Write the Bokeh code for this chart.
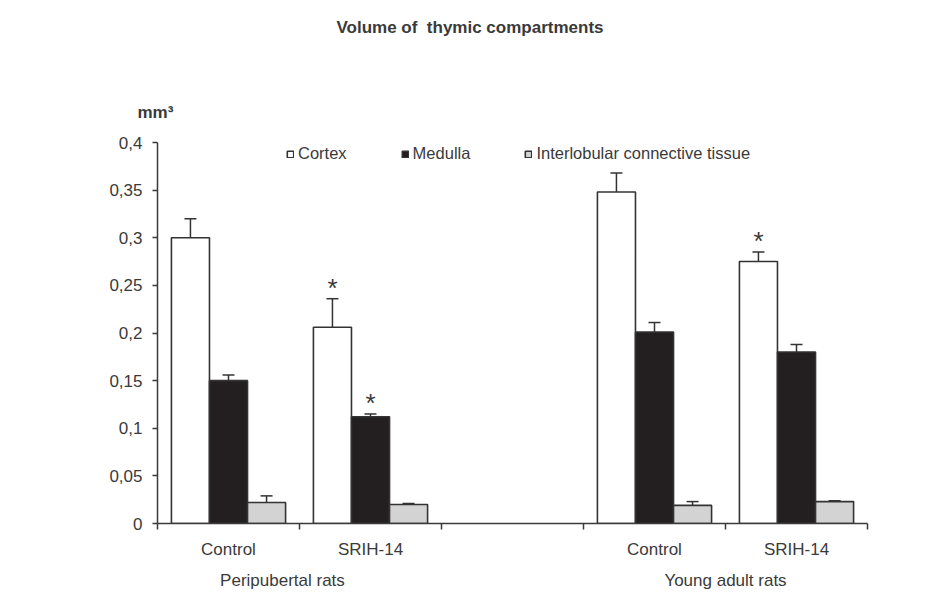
from bokeh.plotting import figure
from bokeh.models import (ColumnDataSource, Whisker, TeeHead, FixedTicker, LinearAxis,
                          CustomJSTickFormatter, Range1d, Title, Legend, LegendItem)
from bokeh.core.properties import value
from bokeh.embed import file_html
from bokeh.resources import INLINE

# ---- data ----
groups = ["Peripubertal rats", "Young adult rats"]
treatments = ["Control", "SRIH-14", "Control", "SRIH-14"]
group_of = [0, 0, 1, 1]
series = ["Cortex", "Medulla", "Interlobular connective tissue"]
cortex = [0.300, 0.206, 0.348, 0.275]
cortex_err = [0.020, 0.030, 0.020, 0.010]
medulla = [0.150, 0.112, 0.201, 0.180]
medulla_err = [0.006, 0.003, 0.010, 0.008]
inter = [0.022, 0.020, 0.019, 0.023]
inter_err = [0.007, 0.001, 0.004, 0.001]
cortex_sig = [False, True, False, True]
medulla_sig = [False, True, False, False]
y_ticks = [0, 0.05, 0.1, 0.15, 0.2, 0.25, 0.3, 0.35, 0.4]
title_text = "Volume of \u00a0thymic compartments"
unit_text = "mm\u00b3"

FONT = "Liberation Sans"
TXT = "#3a3a3a"
EDGE = "#333333"

# slot positions: one empty slot between groups
slots = [g * 3 + (i % 2) for i, g in enumerate(group_of)]
n_slots = max(slots) + 1
centers = [s + 0.5 for s in slots]
bw = 0.268

p = figure(width=937, height=592, output_backend="svg", toolbar_location=None,
           x_range=Range1d(0, n_slots), y_range=Range1d(0, 0.4),
           min_border_left=157, min_border_right=70, min_border_top=142, min_border_bottom=68,
           x_axis_location=None, y_axis_location=None)
p.outline_line_color = None
p.xgrid.visible = False
p.ygrid.visible = False
p.background_fill_color = "white"

fills = ["white", "#231f20", "#d3d3d3"]
vals = [cortex, medulla, inter]
errs = [cortex_err, medulla_err, inter_err]
offsets = [-bw, 0.0, bw]
items = []
for k in range(3):
    xs = [c + offsets[k] for c in centers]
    src = ColumnDataSource(dict(x=xs, top=vals[k],
                                up=[v + e for v, e in zip(vals[k], errs[k])],
                                lo=[v - e for v, e in zip(vals[k], errs[k])]))
    r = p.vbar(x="x", top="top", bottom=0, width=bw, source=src,
               fill_color=fills[k], line_color=EDGE, line_width=1.6)
    items.append(LegendItem(label=series[k], renderers=[r]))
    w = Whisker(base="x", upper="up", lower="lo", source=src, dimension="height",
                line_color=EDGE, line_width=1.5,
                upper_head=TeeHead(size=12, line_color=EDGE, line_width=1.5),
                lower_head=TeeHead(size=12, line_color=EDGE, line_width=1.5))
    p.add_layout(w)

# significance stars
sx, sy = [], []
for i in range(4):
    if cortex_sig[i]:
        sx.append(centers[i] + offsets[0]); sy.append(cortex[i] + cortex_err[i])
    if medulla_sig[i]:
        sx.append(centers[i] + offsets[1]); sy.append(medulla[i] + medulla_err[i])
p.text(x=sx, y=sy, text=["*"] * len(sx), text_align="center", text_baseline="middle",
       y_offset=-11, text_font=value(FONT), text_font_size="26px", text_color=TXT)

legend = Legend(items=items, orientation="horizontal", location=(129, 360),
                glyph_width=8, glyph_height=8, label_standoff=4, spacing=54,
                padding=0, margin=0, border_line_color=None, background_fill_alpha=0,
                label_text_font=FONT, label_text_font_size="16.5px", label_text_color=TXT)
p.add_layout(legend)

# y axis
yax = LinearAxis(ticker=FixedTicker(ticks=y_ticks, minor_ticks=[]),
                 formatter=CustomJSTickFormatter(code="""
                     return tick.toFixed(2).replace(/0+$/, '').replace(/\\.$/, '').replace('.', ',');
                 """))
yax.axis_line_color = "#3a3a3a"; yax.axis_line_width = 1.5
yax.major_tick_line_color = "#3a3a3a"; yax.major_tick_line_width = 1.5
yax.major_tick_in = 0; yax.major_tick_out = 5
yax.major_label_standoff = 10
yax.major_label_text_font = FONT; yax.major_label_text_font_size = "17px"
yax.major_label_text_color = TXT
p.add_layout(yax, "left")

# x axis: category labels at centers, tick marks at slot boundaries
xax = LinearAxis(ticker=FixedTicker(ticks=centers, minor_ticks=list(range(n_slots + 1))),
                 major_label_overrides={c: t for c, t in zip(centers, treatments)})
xax.axis_line_color = "#3a3a3a"; xax.axis_line_width = 1.5
xax.major_tick_line_color = None
xax.major_tick_in = 0; xax.major_tick_out = 6
xax.minor_tick_line_color = "#3a3a3a"; xax.minor_tick_line_width = 1.5
xax.minor_tick_in = 0; xax.minor_tick_out = 6
xax.major_label_standoff = 10
xax.major_label_text_font = FONT; xax.major_label_text_font_size = "17px"
xax.major_label_text_color = TXT
p.add_layout(xax, "below")

# group labels
gpos = [0.88, 4.0]
gax = LinearAxis(ticker=FixedTicker(ticks=gpos, minor_ticks=[]),
                 major_label_overrides={g: t for g, t in zip(gpos, groups)})
gax.axis_line_color = None
gax.major_tick_line_color = None
gax.major_label_standoff = 3
gax.major_label_text_font = FONT; gax.major_label_text_font_size = "17px"
gax.major_label_text_color = TXT
p.add_layout(gax, "below")

# unit label just above the frame, a spacer, then the chart title at the top
unit = Title(text=unit_text, align="left", offset=-20, standoff=42,
             text_font=FONT, text_font_size="17px", text_font_style="bold", text_color=TXT)
p.add_layout(unit, "above")
spacer = Title(text=" ", align="left", standoff=10, text_font=FONT,
               text_font_size="17px", text_font_style="bold")
p.add_layout(spacer, "above")
p.title.text = title_text
p.title.align = "left"
p.title.offset = 179
p.title.standoff = 24
p.title.text_font = FONT
p.title.text_font_size = "17px"
p.title.text_font_style = "bold"
p.title.text_color = TXT

open("out.html", "w").write(file_html(p, INLINE))
